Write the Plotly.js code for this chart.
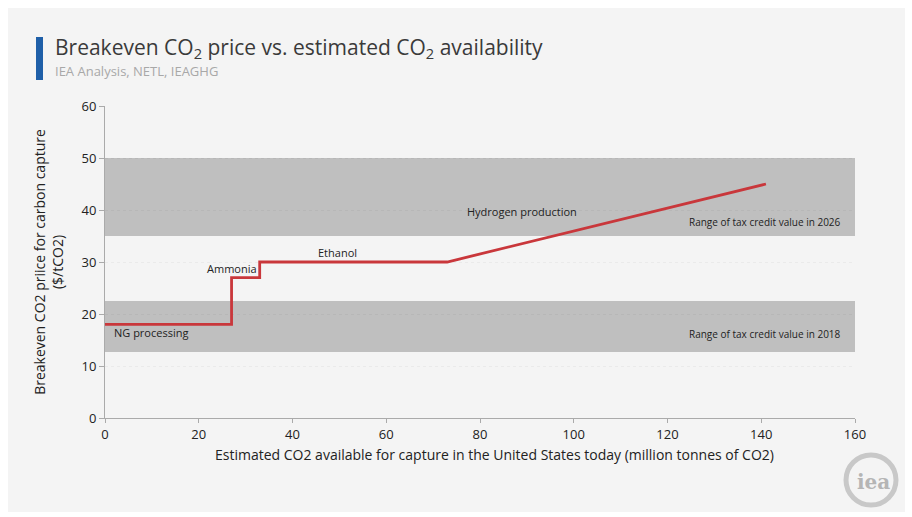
<!DOCTYPE html>
<html>
<head>
<meta charset="utf-8">
<script src="https://cdn.plot.ly/plotly-3.0.1.min.js"></script>
<style>html,body{margin:0;padding:0;background:#fff;}#chart{width:912px;height:517px;}</style>
</head>
<body>
<div id="chart"></div>
<script>
// Supply curve (million tonnes CO2 vs $/tCO2)
const co2Available = [0, 27, 27, 33, 33, 73, 141];
const breakevenPrice = [18, 18, 27, 27, 30, 30, 45];

// Tax credit ranges
const rangeNames = ["Range of tax credit value in 2018", "Range of tax credit value in 2026"];
const rangeLow = [12.7, 35];
const rangeHigh = [22.5, 50];
const rangeLabelY = [16.2, 37.7];

// Sector labels
const sectorNames = ["NG processing", "Ammonia", "Ethanol", "Hydrogen production"];
const sectorX = [1.5, 27, 49.7, 89];
const sectorY = [16.4, 28.7, 31.9, 39.8];

const xTicks = [0, 20, 40, 60, 80, 100, 120, 140, 160];
const yTicks = [0, 10, 20, 30, 40, 50, 60];

const W = 912, H = 517, L = 105, R = 57, T = 106, B = 99;
const pw = W - L - R, ph = H - T - B;
const px = v => (v - L) / pw;
const py = v => (H - B - v) / ph;

const shapes = [
  {type:'rect', xref:'paper', yref:'paper', x0:px(8), x1:px(905), y0:py(512), y1:py(8),
   fillcolor:'#f4f4f4', line:{width:0}, layer:'below'},
  {type:'rect', xref:'paper', yref:'paper', x0:px(36), x1:px(43), y0:py(80), y1:py(37),
   fillcolor:'#1f5fa8', line:{width:0}, layer:'below'},
  {type:'circle', xref:'paper', yref:'paper', x0:px(846), x1:px(896), y0:py(505), y1:py(455),
   fillcolor:'rgba(0,0,0,0)', line:{color:'#c8c8c8', width:5}, layer:'above'}
];
rangeLow.forEach((lo, i) => {
  shapes.push({type:'rect', xref:'x', yref:'y', x0:0, x1:160, y0:lo, y1:rangeHigh[i],
    fillcolor:'#bfbfbf', line:{width:0}, layer:'below'});
});

const annotations = [
  {xref:'paper', yref:'paper', x:px(53), y:py(48), xanchor:'left', yanchor:'middle', showarrow:false,
   text:'Breakeven CO<sub>2</sub> price vs. estimated CO<sub>2</sub> availability',
   font:{family:'"Open Sans", sans-serif', size:21, color:'#3a3a3a'}},
  {xref:'paper', yref:'paper', x:px(53), y:py(71), xanchor:'left', yanchor:'middle', showarrow:false,
   text:'IEA Analysis, NETL, IEAGHG',
   font:{family:'"Open Sans", sans-serif', size:13, color:'#a8a8a8'}},
  {xref:'paper', yref:'paper', x:px(494), y:py(454), xanchor:'center', yanchor:'middle', showarrow:false,
   text:'Estimated CO2 available for capture in the United States today (million tonnes of CO2)',
   font:{family:'"Open Sans", sans-serif', size:14, color:'#222'}},
  {xref:'paper', yref:'paper', x:px(873), y:py(482), xanchor:'center', yanchor:'middle', showarrow:false,
   text:'<b>iea</b>', font:{family:'"DejaVu Serif", serif', size:20, color:'#b5b5b5'}}
];
sectorNames.forEach((n, i) => {
  annotations.push({x:sectorX[i], y:sectorY[i], xref:'x', yref:'y', text:n, showarrow:false,
    xanchor: i === 0 ? 'left' : 'center', yanchor:'middle',
    font:{family:'"Open Sans", sans-serif', size:11, color:'#222'}});
});
rangeNames.forEach((n, i) => {
  annotations.push({x:157.5, y:rangeLabelY[i], xref:'x', yref:'y', text:n, showarrow:false,
    xanchor:'right', yanchor:'middle',
    font:{family:'"Open Sans", sans-serif', size:10, color:'#222'}});
});

const trace = {
  x: co2Available, y: breakevenPrice, type:'scatter', mode:'lines',
  line:{color:'#c9373b', width:2.8}, hoverinfo:'skip'
};

const layout = {
  width:W, height:H,
  margin:{l:L, r:R, t:T, b:B},
  paper_bgcolor:'#ffffff', plot_bgcolor:'rgba(0,0,0,0)',
  showlegend:false,
  font:{family:'"Open Sans", sans-serif', color:'#222'},
  xaxis:{range:[0,160], tickvals:xTicks, ticktext:xTicks.map(String), showgrid:false, zeroline:false,
    showline:true, linecolor:'#aaa', linewidth:1, ticks:'outside', ticklen:4, tickcolor:'#aaa',
    tickfont:{size:13, color:'#222'}},
  yaxis:{range:[0,60], tickvals:yTicks, ticktext:yTicks.map(String), showgrid:true,
    gridcolor:'rgba(0,0,0,0.04)', griddash:'dot', zeroline:false,
    showline:true, linecolor:'#aaa', linewidth:1, ticks:'outside', ticklen:5, tickcolor:'#aaa',
    tickfont:{size:13, color:'#222'},
    title:{text:'Breakeven CO2 priice for carbon capture<br>(\$/tCO2)',
      font:{size:14, color:'#222'}, standoff:14}},
  shapes: shapes,
  annotations: annotations
};

Plotly.newPlot('chart', [trace], layout, {displayModeBar:false, staticPlot:true});
</script>
</body>
</html>
